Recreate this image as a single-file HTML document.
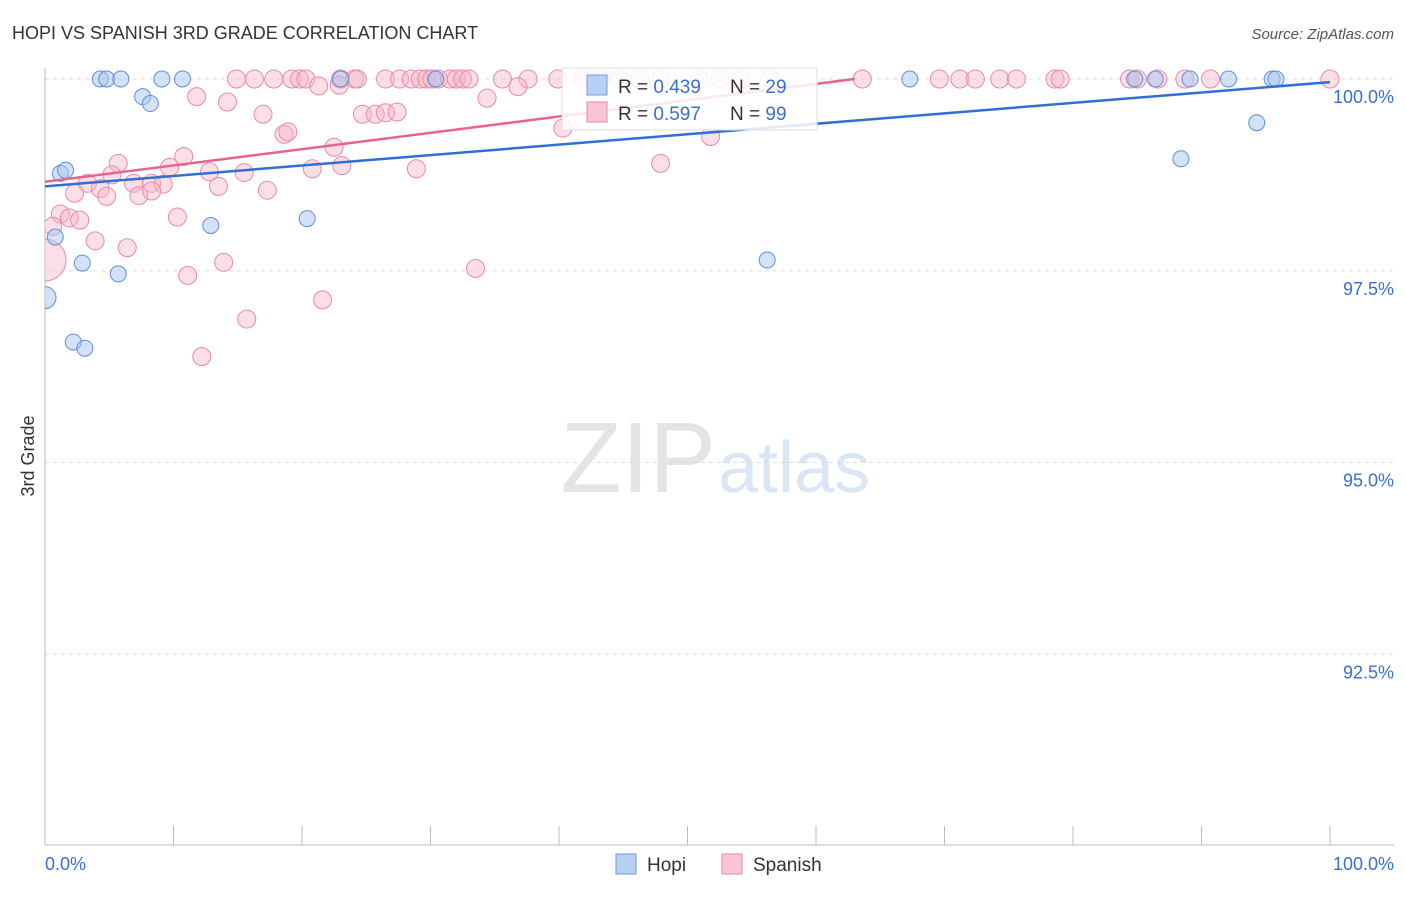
<!DOCTYPE html>
<html><head><meta charset="utf-8"><style>
body{margin:0;background:#fff;font-family:"Liberation Sans",sans-serif}
svg text{font-family:"Liberation Sans",sans-serif}
</style></head><body>
<svg width="1406" height="892">
<defs><clipPath id="plotclip"><rect x="45" y="40" width="1360" height="805"/></clipPath></defs>
<text x="12" y="39" font-size="18" fill="#333">HOPI VS SPANISH 3RD GRADE CORRELATION CHART</text>
<text x="1394" y="39" font-size="15" fill="#555" text-anchor="end" font-style="italic">Source: ZipAtlas.com</text>
<text x="716" y="492" font-size="100" fill="#e4e4e4" text-anchor="end" font-family="Liberation Serif">ZIP</text>
<text x="718" y="492" font-size="72" fill="#dbe6f5">atlas</text>
<g id="grid"></g>
<line x1="45" y1="68" x2="45" y2="845" stroke="#bbb"/>
<line x1="45" y1="845" x2="1394" y2="845" stroke="#bbb"/>
<g id="xticks"></g>
<text x="45" y="870" font-size="18" fill="#3a6fd0">0.0%</text>
<text x="1394" y="870" font-size="18" fill="#3a6fd0" text-anchor="end">100.0%</text>
<text x="34" y="456" font-size="18" fill="#333" transform="rotate(-90 34 456)" text-anchor="middle">3rd Grade</text>
<g id="pts" clip-path="url(#plotclip)"></g>
<g id="lines"></g>
<g>
<rect x="562" y="68" width="255" height="62" fill="#fff" fill-opacity="0.85" stroke="#ddd"/>
<rect x="587" y="75" width="20" height="20" fill="#b8d0f2" stroke="#6f9be0"/>
<text x="618" y="93" font-size="19" fill="#333">R = <tspan fill="#3a6fd0">0.439</tspan></text>
<text x="730" y="93" font-size="19" fill="#333">N = <tspan fill="#3a6fd0">29</tspan></text>
<rect x="587" y="102" width="20" height="20" fill="#f9c4d3" stroke="#eb8aa8"/>
<text x="618" y="120" font-size="19" fill="#333">R = <tspan fill="#3a6fd0">0.597</tspan></text>
<text x="730" y="120" font-size="19" fill="#333">N = <tspan fill="#3a6fd0">99</tspan></text>
</g>
<g>
<rect x="616" y="854" width="20" height="20" fill="#b8d0f2" stroke="#6f9be0"/>
<text x="647" y="871" font-size="19" fill="#333">Hopi</text>
<rect x="722" y="854" width="20" height="20" fill="#f9c4d3" stroke="#eb8aa8"/>
<text x="753" y="871" font-size="19" fill="#333">Spanish</text>
</g>
</svg>
<script>
const yTicks=[100,97.5,95,92.5];
const yTickLabels=["100.0%","97.5%","95.0%","92.5%"];
const hopiX=[4.3,4.8,5.9,9.1,10.7,23,30.4,67.3,84.8,86.4,89.1,92.1,95.5,95.8,7.6,8.2,1.2,1.6,0.8,2.9,5.7,12.9,20.4,0,2.2,3.1,56.2,88.4,94.3];
const hopiY=[100,100,100,100,100,100,100,100,100,100,100,100,100,100,99.77,99.68,98.77,98.81,97.94,97.6,97.46,98.09,98.18,97.15,96.57,96.49,97.64,98.96,99.43];
const spX=[14.9,16.3,17.8,19.2,19.8,20.3,23,24.1,24.3,26.5,27.6,28.5,29.2,29.7,30.1,30.6,31.5,32,32.5,33,35.6,37.6,39.9,41.9,43.2,44.7,46.3,47.9,50.9,52.5,54.1,56.4,63.6,69.6,71.2,72.4,74.3,75.6,78.6,79,84.4,85,86.6,88.7,90.7,100,
11.8,14.2,16.967,21.3,22.9,34.4,36.8,18.6,18.9,24.7,25.7,26.5,27.4,22.5,10.8,5.7,9.7,20.8,23.1,28.9,47.9,51.8,40.3,15.5,12.8,5.2,3.3,4.3,6.9,8.3,9.2,13.5,17.3,2.3,4.8,7.3,8.3,1.2,1.9,2.7,0.6,3.9,6.4,10.3,11.1,13.9,33.5,21.6,15.7,12.2,0];
const spY=[100,100,100,100,100,100,100,100,100,100,100,100,100,100,100,100,100,100,100,100,100,100,100,100,100,100,100,100,100,100,100,100,100,100,100,100,100,100,100,100,100,100,100,100,100,100,
99.77,99.7,99.54,99.91,99.92,99.75,99.9,99.28,99.31,99.54,99.54,99.56,99.57,99.11,98.99,98.9,98.85,98.83,98.87,98.83,98.9,99.25,99.36,98.78,98.79,98.75,98.64,98.57,98.64,98.64,98.63,98.6,98.55,98.51,98.47,98.48,98.54,98.24,98.19,98.16,98.08,97.89,97.8,98.2,97.44,97.61,97.53,97.12,96.87,96.38,97.64];
const hopiTrend=[[0,98.6],[100,99.96]];
const spTrend=[[0,98.66],[63,100]];
const X=v=>45+v*12.85, Y=v=>79+(100-v)*76.7;
const ns="http://www.w3.org/2000/svg";
function mk(t,a,p){const e=document.createElementNS(ns,t);for(const k in a)e.setAttribute(k,a[k]);p.appendChild(e);return e;}
const g=document.getElementById('grid');
yTicks.forEach((t,i)=>{
 const l=mk('line',{x1:45,x2:1394,y1:Y(t),y2:Y(t),stroke:'#ddd','stroke-dasharray':'4,4'},g);
 
 
 const tx=mk('text',{x:1394,y:Y(t)+24,'font-size':18,fill:'#3a6fd0','text-anchor':'end'},g);
 tx.textContent=yTickLabels[i];
 
 
});
const xt=document.getElementById('xticks');
for(let i=0;i<=10;i++){const l=mk('line',{x1:X(i*10),x2:X(i*10),y1:826,y2:845,stroke:'#bbb'},xt);
 
 }
const p=document.getElementById('pts');
spX.forEach((x,i)=>{const r=(i==spX.length-1)?21:9;const c=mk('circle',{cx:X(x),cy:Y(spY[i]),r:r,fill:'#f7b5c8','fill-opacity':0.45,stroke:'#eb8aa8','stroke-width':1},p);
 
 });
hopiX.forEach((x,i)=>{const r=(i==23)?11:8;const c=mk('circle',{cx:X(x),cy:Y(hopiY[i]),r:r,fill:'#a9c6ef','fill-opacity':0.5,stroke:'#5f8fdc','stroke-width':1},p);
 
 });
const L=document.getElementById('lines');
const hl=mk('line',{x1:X(hopiTrend[0][0]),y1:Y(hopiTrend[0][1]),x2:X(hopiTrend[1][0]),y2:Y(hopiTrend[1][1]),stroke:'#2f6fd6','stroke-width':2.5},L);


const sl=mk('line',{x1:X(spTrend[0][0]),y1:Y(spTrend[0][1]),x2:X(spTrend[1][0]),y2:Y(spTrend[1][1]),stroke:'#e8648e','stroke-width':2.5},L);


</script>
</body></html>
